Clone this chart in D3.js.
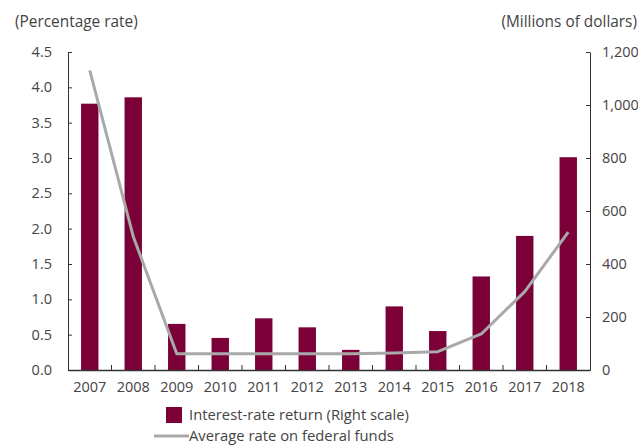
<!DOCTYPE html>
<html>
<head>
<meta charset="utf-8">
<script src="https://cdn.jsdelivr.net/npm/d3@7"></script>
<style>
  body { margin: 0; background: #fff; }
  svg text { font-family: "Open Sans", "Noto Sans", sans-serif; fill: #444; }
</style>
</head>
<body>
<svg id="chart" width="638" height="446"></svg>
<script>
const years = ["2007", "2008", "2009", "2010", "2011", "2012", "2013", "2014", "2015", "2016", "2017", "2018"];
// interest-rate return, millions of dollars (right scale)
const returns = [1005, 1029, 174, 121, 195, 161, 76, 240, 147, 353, 506, 803];
// average rate on federal funds, percent (left scale)
const fedRate = [4.24, 1.89, 0.23, 0.23, 0.23, 0.23, 0.23, 0.24, 0.26, 0.51, 1.11, 1.95];
const leftTicks = [0, 0.5, 1, 1.5, 2, 2.5, 3, 3.5, 4, 4.5];
const rightTicks = [0, 200, 400, 600, 800, 1000, 1200];

const barColor = "#7a0037";
const lineColor = "#a9a9a9";
const axisColor = "#333";

const margin = { top: 52, right: 48, bottom: 76, left: 68 };
const width = 638 - margin.left - margin.right;
const height = 446 - margin.top - margin.bottom;

const svg = d3.select("#chart");
const g = svg.append("g")
  .attr("transform", "translate(" + margin.left + "," + margin.top + ")");

const x = d3.scaleBand().domain(years).range([0, width])
  .paddingInner(0.6).paddingOuter(0.3);
const yLeft = d3.scaleLinear().domain([0, 4.5]).range([height, 0]);
const yRight = d3.scaleLinear().domain([0, 1200]).range([height, 0]);

// bars
g.selectAll("rect.bar")
  .data(years)
  .enter()
  .append("rect")
  .attr("class", "bar")
  .attr("x", d => x(d))
  .attr("width", x.bandwidth())
  .attr("y", (d, i) => yRight(returns[i]))
  .attr("height", (d, i) => height - yRight(returns[i]))
  .attr("fill", barColor);

// line
const line = d3.line()
  .x((d, i) => x(years[i]) + x.bandwidth() / 2)
  .y(d => yLeft(d));

g.append("path")
  .datum(fedRate)
  .attr("fill", "none")
  .attr("stroke", lineColor)
  .attr("stroke-width", 3)
  .attr("stroke-linejoin", "round")
  .attr("d", line);

// left axis
const leftAxis = g.append("g")
  .call(d3.axisLeft(yLeft).tickValues(leftTicks).tickFormat(d3.format(".1f"))
    .tickSizeInner(-4).tickSizeOuter(0).tickPadding(16));
leftAxis.select(".domain").attr("stroke", axisColor);
leftAxis.selectAll(".tick line").attr("stroke", axisColor);
leftAxis.selectAll("text").style("font-size", "14.5px").attr("fill", "#444");

// right axis
const rightAxis = g.append("g")
  .attr("transform", "translate(" + width + ",0)")
  .call(d3.axisRight(yRight).tickValues(rightTicks).tickFormat(d3.format(","))
    .tickSizeInner(-4).tickSizeOuter(0).tickPadding(12));
rightAxis.select(".domain").attr("stroke", axisColor);
rightAxis.selectAll(".tick line").attr("stroke", axisColor);
rightAxis.selectAll("text").style("font-size", "14.5px").attr("fill", "#444");

// bottom axis
const bottomAxis = g.append("g")
  .attr("transform", "translate(0," + height + ")")
  .call(d3.axisBottom(x).tickSize(0).tickPadding(12));
bottomAxis.select(".domain").attr("stroke", axisColor).attr("stroke-width", 1.5);
bottomAxis.selectAll("text").style("font-size", "14.5px").attr("fill", "#444");

// separators between years
g.append("g")
  .selectAll("line")
  .data(years.slice(1))
  .enter()
  .append("line")
  .attr("x1", d => x(d) - x.step() * x.paddingInner() / 2)
  .attr("x2", d => x(d) - x.step() * x.paddingInner() / 2)
  .attr("y1", height)
  .attr("y2", height - 5)
  .attr("stroke", axisColor);

// axis titles
svg.append("text")
  .attr("x", 15).attr("y", 27)
  .style("font-size", "15.4px")
  .text("(Percentage rate)");
svg.append("text")
  .attr("x", 637).attr("y", 27)
  .attr("text-anchor", "end")
  .style("font-size", "15.4px")
  .text("(Millions of dollars)");

// legend
const legend = svg.append("g");
legend.append("rect")
  .attr("x", 166).attr("y", 407).attr("width", 16).attr("height", 16)
  .attr("fill", barColor);
legend.append("text")
  .attr("x", 189).attr("y", 420)
  .style("font-size", "14.8px")
  .text("Interest-rate return (Right scale)");
legend.append("line")
  .attr("x1", 154).attr("x2", 189).attr("y1", 436).attr("y2", 436)
  .attr("stroke", lineColor).attr("stroke-width", 3);
legend.append("text")
  .attr("x", 189).attr("y", 441)
  .style("font-size", "14.8px")
  .text("Average rate on federal funds");
</script>
</body>
</html>
